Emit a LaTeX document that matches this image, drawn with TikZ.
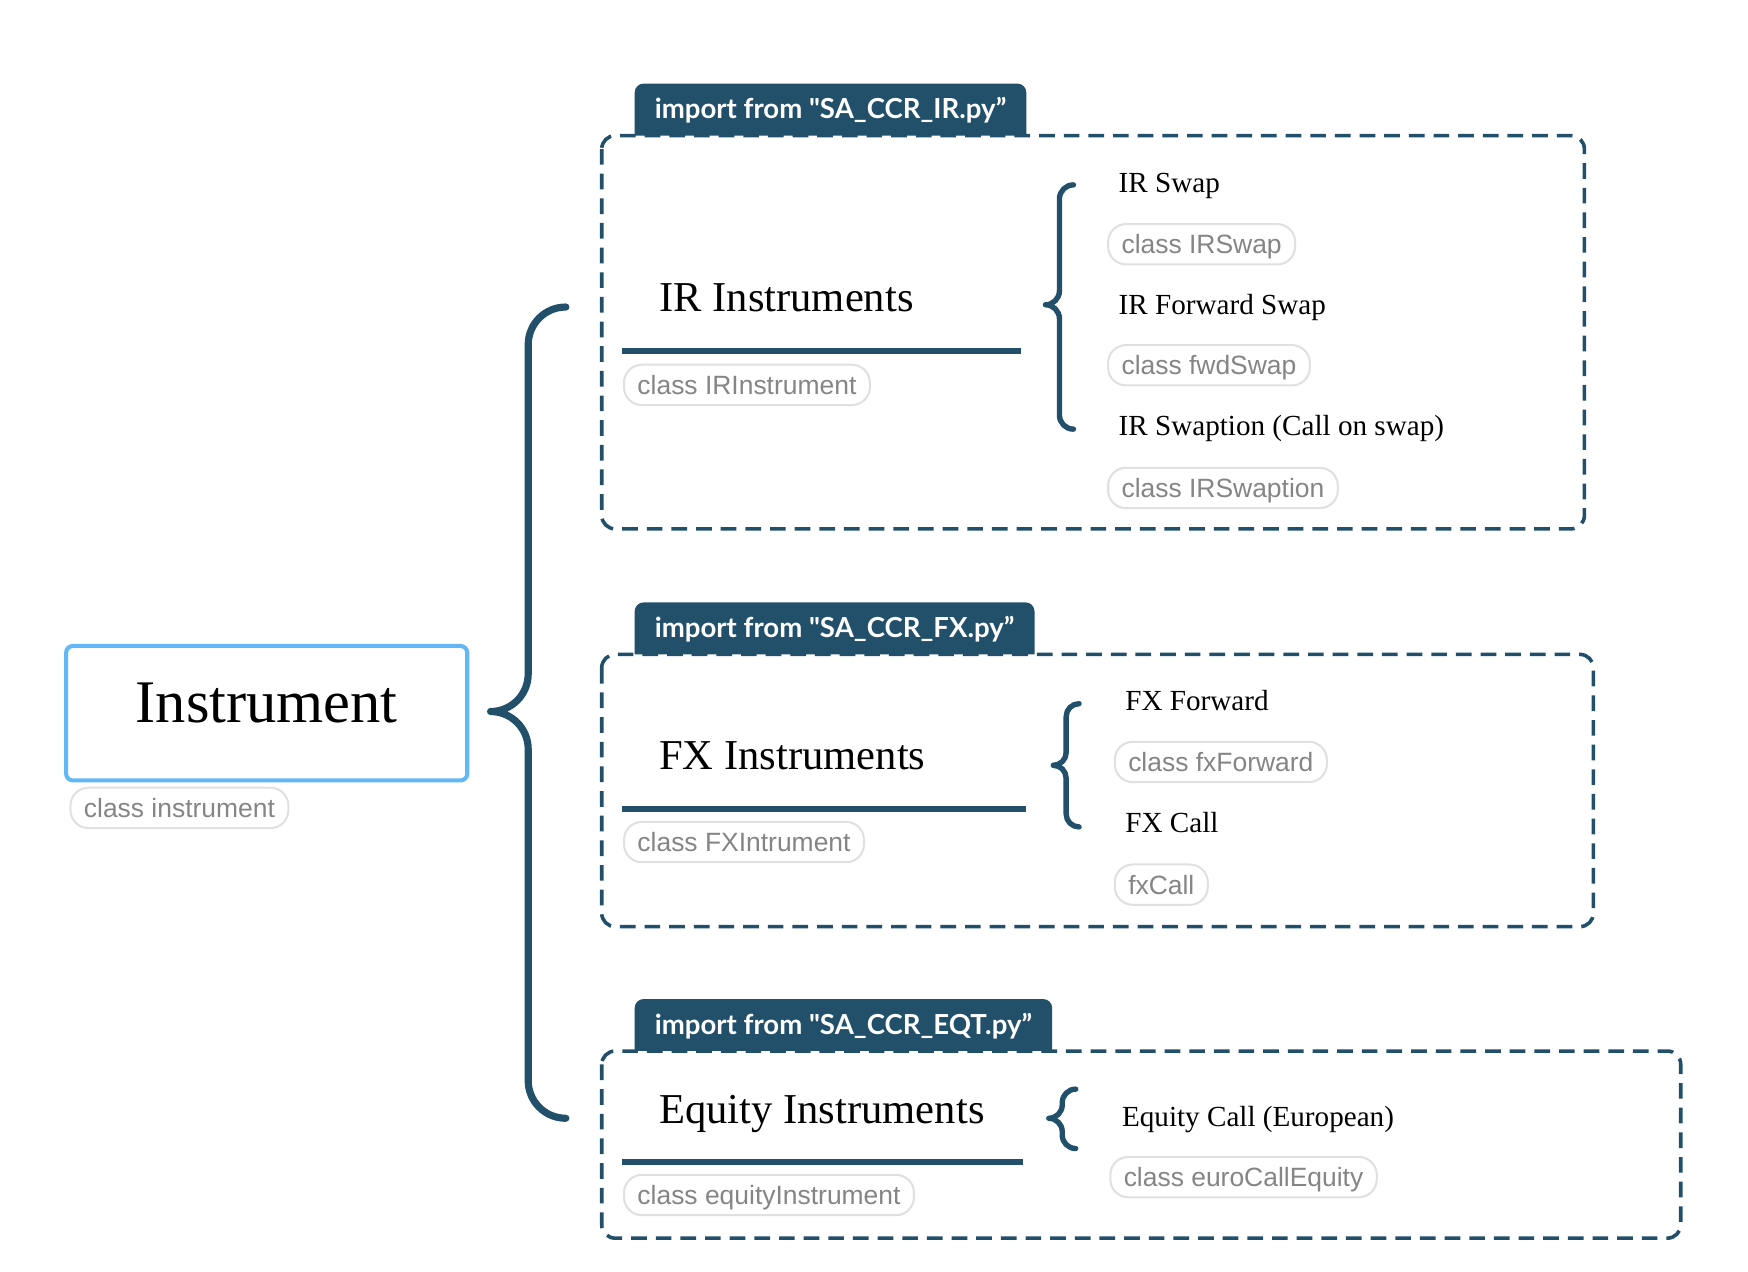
\documentclass[tikz,border=0pt]{standalone}
\usepackage{fontspec}
\setmainfont{Liberation Serif}
\newfontfamily\pillfont{Liberation Sans}
\newfontfamily\tabfont{Lato}
\usetikzlibrary{calc}

\definecolor{navy}{HTML}{22506A}
\definecolor{instblue}{HTML}{62B8F6}
\definecolor{pillline}{HTML}{E0E0E0}
\definecolor{pilltext}{HTML}{858585}

% curly brace: top end, tip, bottom end
\newcommand{\curlybrace}[4][]{%
  \draw[#1] let \p1=(#2), \p2=(#3), \p3=(#4), \n1={(\x1-\x2)/2} in
    (\p1) to[out=180,in=90] (\x2+\n1,\y1-\n1) -- (\x2+\n1,\y2+\n1)
    to[out=-90,in=0] (\p2) to[out=0,in=90] (\x2+\n1,\y2-\n1)
    -- (\x2+\n1,\y3+\n1) to[out=-90,in=180] (\p3);}

\begin{document}
\begin{tikzpicture}[x=0.5pt, y=-0.5pt, line join=round,
    root/.style={draw=instblue, line width=1.8pt, rounded corners=3pt,
      minimum width=179pt, minimum height=60pt, text height=18pt, text depth=9.5pt,
      font=\fontsize{27}{30}\selectfont},
    pill/.style={draw=pillline, line width=0.9pt, rounded corners=8pt, anchor=west,
      text=pilltext, inner xsep=6pt, minimum height=18pt, text height=8.5pt, text depth=0pt,
      font=\pillfont\fontsize{11.8}{13}\selectfont},
    tab/.style={fill=navy, text=white, rounded corners=4pt, anchor=south west,
      inner xsep=9pt, inner ysep=7.25pt, text height=8.5pt, text depth=4pt,
      font=\tabfont\bfseries\fontsize{12.3}{14}\selectfont},
    group/.style={draw=navy, fill=white, line width=1.6pt, rounded corners=6pt,
      dash pattern=on 7pt off 4pt},
    head/.style={anchor=base west, inner sep=0pt, font=\fontsize{19}{22}\selectfont},
    item/.style={anchor=base west, inner sep=0pt, font=\fontsize{13}{15}\selectfont},
    headrule/.style={draw=navy, line width=2.7pt},
    bigbrace/.style={draw=navy, line width=3.2pt, line cap=round},
    smallbrace/.style={draw=navy, line width=2.4pt, line cap=round}]

    \useasboundingbox (0,0) rectangle (1560,1135);

    % root
    \node[root] (root) at (238,636.5) {Instrument};
    \node[pill] (rootcls) at (62,721) {class instrument};

    % IR group
    \node[tab] (irtab) at (566,129) {import from "SA\_CCR\_IR.py”};
    \draw[group] (537,121) rectangle (1414,472);
    \node[head] (irhead) at (588,278) {IR Instruments};
    \draw[headrule] (555,313) -- (911,313);
    \node[pill] (ircls) at (556,343.5) {class IRInstrument};
    \node[item] (irswap) at (998,172) {IR Swap};
    \node[pill] (irswapcls) at (988,218) {class IRSwap};
    \node[item] (irfwd) at (998,280.5) {IR Forward Swap};
    \node[pill] (irfwdcls) at (988,326) {class fwdSwap};
    \node[item] (irswpt) at (998,389) {IR Swaption (Call on swap)};
    \node[pill] (irswptcls) at (988,435.5) {class IRSwaption};

    % FX group
    \node[tab] (fxtab) at (566,592) {import from "SA\_CCR\_FX.py”};
    \draw[group] (537,584) rectangle (1422,827);
    \node[head] (fxhead) at (588,687) {FX Instruments};
    \draw[headrule] (555,722) -- (916,722);
    \node[pill] (fxcls) at (556,751.5) {class FXIntrument};
    \node[item] (fxfwd) at (1004,634) {FX Forward};
    \node[pill] (fxfwdcls) at (994,680) {class fxForward};
    \node[item] (fxcall) at (1004,743) {FX Call};
    \node[pill] (fxcallcls) at (994,789.5) {fxCall};

    % equity group
    \node[tab] (eqtab) at (566,946) {import from "SA\_CCR\_EQT.py”};
    \draw[group] (537,938) rectangle (1500,1105);
    \node[head] (eqhead) at (588,1003) {Equity Instruments};
    \draw[headrule] (555,1037) -- (913,1037);
    \node[pill] (eqcls) at (556,1066.5) {class equityInstrument};
    \node[item] (eqcall) at (1001,1005) {Equity Call (European)};
    \node[pill] (eqcallcls) at (990,1050.5) {class euroCallEquity};

    % braces
    \coordinate (bigtip) at ($(root.east)+(19,-1.5)$);
    \coordinate (bigtop) at ($(irhead.base west)+(-83,-4)$);
    \coordinate (bigbot) at ($(eqhead.base west)+(-83,-5)$);
    \curlybrace[bigbrace]{bigtop}{bigtip}{bigbot}

    \coordinate (irtop) at ($(irswap.base west)+(-40,-7)$);
    \coordinate (irtip) at ($(irfwd.base west)+(-65,-8.5)$);
    \coordinate (irbot) at ($(irswpt.base west)+(-40,-6)$);
    \curlybrace[smallbrace]{irtop}{irtip}{irbot}

    \coordinate (fxtop) at ($(fxfwd.base west)+(-41,-6)$);
    \coordinate (fxtip) at ($(fxfwd.base west)+(-64,49)$);
    \coordinate (fxbot) at ($(fxcall.base west)+(-41,-5)$);
    \curlybrace[smallbrace]{fxtop}{fxtip}{fxbot}

    \coordinate (eqtop) at ($(eqcall.base west)+(-41,-33)$);
    \coordinate (eqtip) at ($(eqcall.base west)+(-65,-7)$);
    \coordinate (eqbot) at ($(eqcall.base west)+(-41,20)$);
    \curlybrace[smallbrace]{eqtop}{eqtip}{eqbot}

\end{tikzpicture}
\end{document}
